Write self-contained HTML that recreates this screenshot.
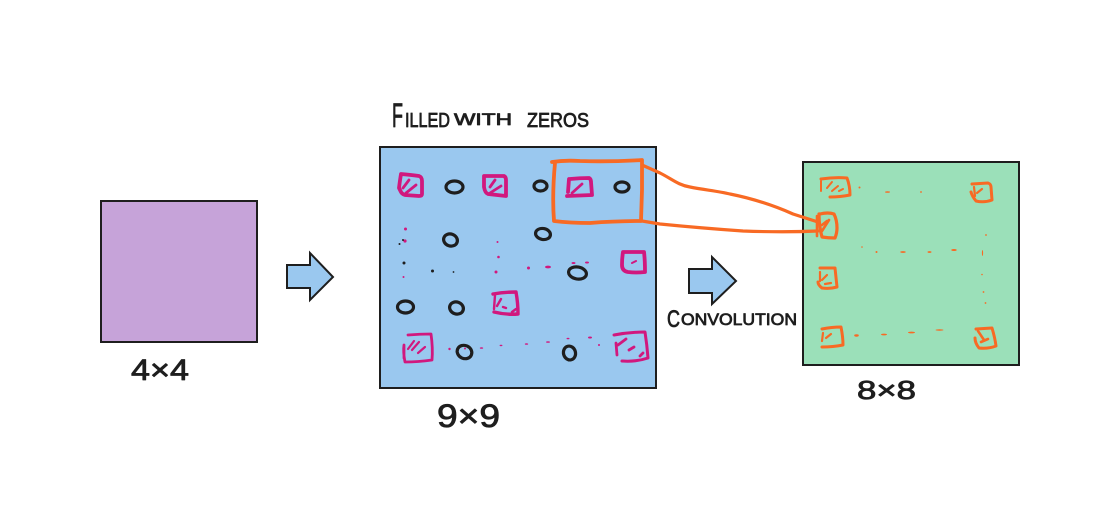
<!DOCTYPE html>
<html><head><meta charset="utf-8">
<style>html,body{margin:0;padding:0;background:#fff;width:1120px;height:531px;overflow:hidden}svg{display:block}
text{font-family:"Liberation Sans",sans-serif;fill:#1e1e1e;stroke:#1e1e1e;stroke-width:.8px;stroke-linejoin:round}</style></head>
<body>
<svg width="1120" height="531" viewBox="0 0 1120 531" xmlns="http://www.w3.org/2000/svg">
<rect width="1120" height="531" fill="#fff"/>
<g stroke="#1e1e1e" stroke-width="2" stroke-linejoin="miter">
<rect x="101" y="201" width="156" height="141" fill="#c6a3d9"/>
<rect x="380" y="147" width="276" height="241" fill="#9ac8ef"/>
<rect x="803" y="162" width="216" height="203" fill="#9be0b9"/>
<path d="M287 265H310V253L333 277L310 300V288H287Z" fill="#9ac8ef"/>
<path d="M689 269H712V257L736 281L712 304V293H689Z" fill="#9ac8ef"/>
</g>

<!-- black zeros -->
<g fill="none" stroke="#1e1e1e" stroke-width="3.200">
<ellipse cx="454.500" cy="187" rx="8.500" ry="6"/>
<ellipse cx="540.500" cy="186" rx="6.500" ry="5"/>
<ellipse cx="622" cy="187" rx="7" ry="5"/>
<ellipse cx="450.500" cy="240" rx="7" ry="6" transform="rotate(20 450.500 240)"/>
<ellipse cx="543" cy="234" rx="7.500" ry="5.500" transform="rotate(10 543 234)"/>
<ellipse cx="577.500" cy="273" rx="9" ry="6" transform="rotate(10 577.500 273)"/>
<ellipse cx="405.500" cy="307" rx="8" ry="6"/>
<ellipse cx="456.500" cy="308" rx="7" ry="6" transform="rotate(20 456.500 308)"/>
<ellipse cx="464.500" cy="352" rx="7.500" ry="6.500" transform="rotate(25 464.500 352)"/>
<ellipse cx="569.500" cy="353" rx="6" ry="7" transform="rotate(-15 569.500 353)"/>
</g>

<!-- magenta squares -->
<g fill="none" stroke="#d1187e" stroke-width="3.800" stroke-linecap="round" stroke-linejoin="round">
<path d="M401 174Q412 175 419 176Q422 177 422 181L422 194Q422 196 419 196L405 195Q402 194 401 192L399 188Q400 180 401 174Z"/>
<path d="M403 188L409 180M406 193L416 185" stroke-width="2.800"/>
<path d="M484 176Q495 176 504 176Q506 177 506 180L506 196L488 194Q485 193 484 187Z"/>
<path d="M490 187L495 180M490 193L501 186" stroke-width="2.800"/>
<path d="M570 179Q580 178 589 178Q591 179 591 182L592 195L567 196M569 179L568 192"/>
<path d="M572 193L582 184" stroke-width="2.800"/>
<path d="M623 252Q634 252 644 252Q645 260 645 272Q636 273 628 272Q622 271 622 265Q622 258 623 252Z"/>
<path d="M632 263L636 261" stroke-width="2"/>
<path d="M493 294Q505 292 516 292Q518 303 518 314Q506 315 494 312" stroke-width="3.400"/>
<path d="M495 295L494 309M497 306L501 299M503 307L506 308M512 312L516 309" stroke-width="2.400"/>
<path d="M408 335Q420 334 431 334Q433 348 432 360Q418 362 405 362Q403 352 404 345L404 358" stroke-width="2.800"/>
<path d="M408 349L414 341M412 350L419 342M418 353L425 347" stroke-width="2.200"/>
<path d="M614 335Q630 332 645 332Q647 345 648 358Q636 362 622 361" stroke-width="3"/>
<path d="M616 343L617 355M618 345L626 339M629 350L634 347M640 356L643 353" stroke-width="2.800"/>
</g>
<!-- magenta dots -->
<g fill="#d1187e">
<circle cx="405.500" cy="229" r="1.500"/><circle cx="405" cy="241" r="1.600"/>
<circle cx="497.500" cy="242" r="1"/><circle cx="498.500" cy="257" r="1.300"/><circle cx="496" cy="272" r="1.500"/>
<circle cx="403.500" cy="277" r="1"/><circle cx="528.500" cy="268" r="1.500"/>
<ellipse cx="548" cy="267" rx="3" ry="1.400"/><ellipse cx="573.500" cy="263" rx="2" ry="1"/><ellipse cx="587" cy="262.500" rx="2" ry="1"/>
<circle cx="449.500" cy="349" r="1.200"/><circle cx="465" cy="348.500" r="1"/><ellipse cx="481.500" cy="348" rx="1.700" ry=".8"/>
<ellipse cx="501" cy="345.500" rx="1.500" ry=".7"/><ellipse cx="526.500" cy="344" rx="1.700" ry=".8"/><ellipse cx="548" cy="342" rx="2" ry=".8"/>
<ellipse cx="568" cy="338.500" rx="1.500" ry=".8"/><ellipse cx="590" cy="337.500" rx="2" ry="1"/><circle cx="599" cy="345" r="1"/>
</g>
<g fill="#1e1e1e">
<circle cx="399.500" cy="244" r="1"/><circle cx="404" cy="263" r="1.500"/><circle cx="432.500" cy="271" r="1.500"/><circle cx="453.500" cy="272" r=".9"/><circle cx="403" cy="240" r="1"/>
</g>

<!-- orange shapes -->
<g fill="none" stroke="#f86a24" stroke-linecap="round" stroke-linejoin="round">
<path d="M552 162Q565 160 580 161Q610 162 642 160L642 190L641 221Q615 221 590 223Q570 223 554 221Q552 195 555 163" stroke-width="3.800"/>
<path d="M642 165L660 173C672 179 678 185 690 187C705 190 718 191 730 194C755 199 775 206 793 214L818 222" stroke-width="3.200"/>
<path d="M642 221L660 224C680 226 700 228 743 231C770 232 795 232 818 231" stroke-width="3.200"/>
<g stroke-width="3">
<path d="M821 179Q835 177 847 178Q850 186 850 195Q840 197 830 197"/>
<path d="M821 181L821 191M827 188L832 182M832 191L838 186M839 191L843 189" stroke-width="2"/>
<path d="M972 184L988 183Q991 184 991 187L992 200Q984 203 976 201Q972 196 971 192"/>
<path d="M974 187L975 196M977 193L982 189" stroke-width="2.200"/>
<path d="M820 214Q828 212 834 214Q837 220 837 228Q837 233 835 238Q828 238 822 237Q819 226 819 214Z" stroke-width="3.200"/>
<path d="M817 216L817 236M822 231L829 220M822 225L827 221" stroke-width="2.600"/>
<path d="M820 268L835 268L837 287Q830 289 822 288Q818 285 818 282"/>
<path d="M820 272L820 281M822 280L827 275M825 284L831 283" stroke-width="2.200"/>
<path d="M822 329Q832 327 841 327Q843 337 843 345Q833 347 822 347"/>
<path d="M823 333L822 341M826 338L831 334" stroke-width="2.200"/>
<path d="M976 329L992 328Q995 338 996 346Q988 349 979 348Q975 343 975 338"/>
<path d="M978 331L984 340M981 342L988 339" stroke-width="2.600"/>
</g>
</g>
<g fill="#f86a24">
<circle cx="859.500" cy="187.500" r="1"/><ellipse cx="887.500" cy="192" rx="2.500" ry=".8"/><circle cx="921" cy="192" r=".9"/>
<circle cx="986" cy="235" r=".9"/><circle cx="862" cy="247" r=".8"/><circle cx="876.500" cy="252" r="1"/>
<ellipse cx="903" cy="252" rx="2.800" ry=".9"/><ellipse cx="929.500" cy="252" rx="2" ry=".9"/><ellipse cx="954" cy="250" rx="2.800" ry="1"/>
<ellipse cx="982.500" cy="253" rx=".6" ry="3"/><circle cx="982" cy="274.500" r=".8"/><circle cx="983.500" cy="292" r=".9"/><circle cx="985.500" cy="303" r=".9"/>
<ellipse cx="856.500" cy="335.500" rx="2.300" ry="1.200"/><ellipse cx="884" cy="334.500" rx="3" ry=".9"/><ellipse cx="911.500" cy="332.500" rx="3.500" ry=".9"/><ellipse cx="939.500" cy="330" rx="4" ry=".7"/>
</g>

<!-- labels -->
<text x="392" y="127" font-size="34" textLength="11" lengthAdjust="spacingAndGlyphs">F</text>
<text x="405" y="127" font-size="20" textLength="45" lengthAdjust="spacingAndGlyphs">ILLED</text>
<text x="454" y="125" font-size="17" textLength="58" lengthAdjust="spacingAndGlyphs">WITH</text>
<text x="527" y="127" font-size="20" textLength="62" lengthAdjust="spacingAndGlyphs">ZEROS</text>
<text x="667" y="327" font-size="24" textLength="13" lengthAdjust="spacingAndGlyphs">C</text>
<text x="681" y="325" font-size="17" textLength="116" lengthAdjust="spacingAndGlyphs">ONVOLUTION</text>
<text x="131" y="380" font-size="30" textLength="58" lengthAdjust="spacingAndGlyphs" stroke-width="1.600">4×4</text>
<text x="437" y="427" font-size="32" textLength="63" lengthAdjust="spacingAndGlyphs" stroke-width="1.600">9×9</text>
<text x="857" y="399" font-size="26" textLength="59" lengthAdjust="spacingAndGlyphs" stroke-width="1.800">8×8</text>
</svg>
</body></html>
